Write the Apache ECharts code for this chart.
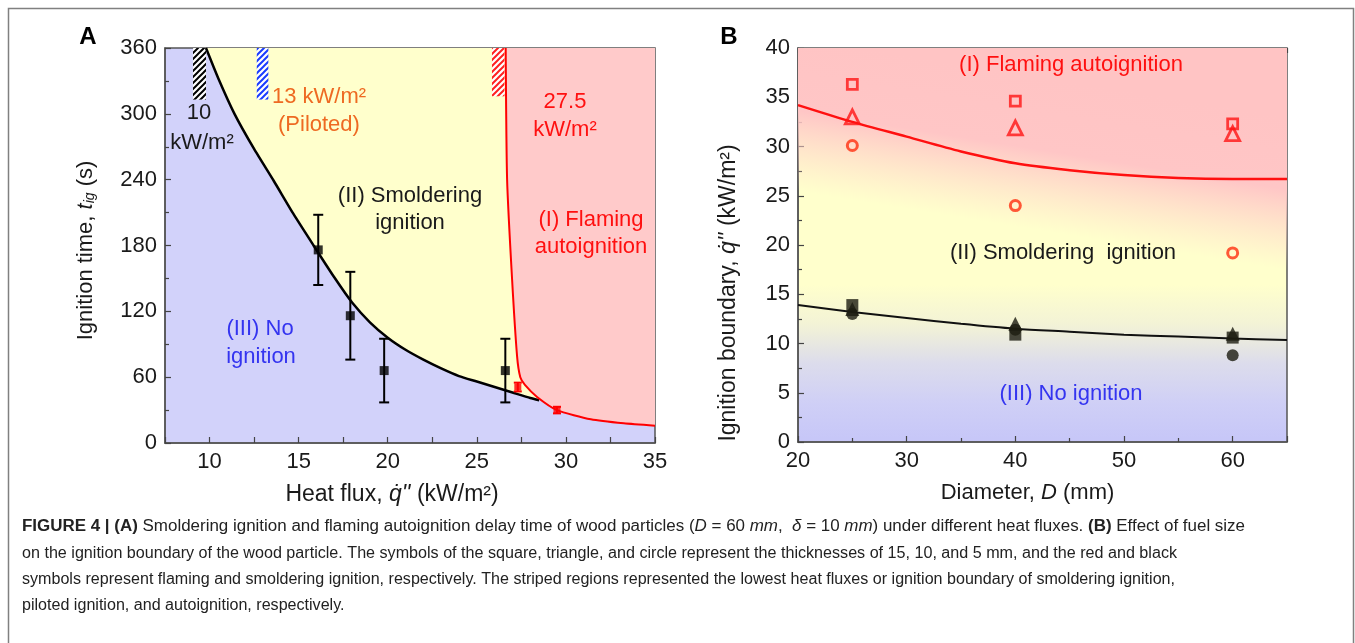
<!DOCTYPE html>
<html><head><meta charset="utf-8">
<script src="https://cdn.jsdelivr.net/npm/echarts@6/dist/echarts.min.js"></script>
<style>html,body{margin:0;padding:0;background:#fff;}#c{width:1355px;height:643px;}</style>
</head><body><div id="c"></div>
<script>
// ---------- Panel A data ----------
const aSmolderX = [16.1, 17.9, 19.8, 26.6];
const aSmolderY = [176, 116, 66, 66];
const aSmolderLow = [144, 76, 37, 37];
const aSmolderHigh = [208, 156, 95, 95];
const aFlameX = [27.3, 29.5];
const aFlameY = [51, 30];
const aFlameLow = [47, 27];
const aFlameHigh = [55, 33];
const aBlackCurveX = [9.8, 10.5, 11.4, 12.5, 13.6, 14.7, 15.8, 17, 18, 19, 20, 21, 22, 23, 24, 25, 26, 27, 28, 28.5];
const aBlackCurveY = [360, 332, 300, 268, 239, 209, 181, 151, 128, 110, 96, 85, 76, 68, 61, 56, 51, 46, 41, 39];
const aRedCurveX = [26.62, 26.7, 26.98, 27.26, 27.44, 27.7, 28.38, 29.5, 31.4, 33.25, 35];
const aRedCurveY = [360, 240, 149, 79, 60, 53, 42, 30, 21.6, 17.9, 15.8];
const hatchX0 = [9.07, 12.65, 25.85];
const hatchX1 = [9.8, 13.3, 26.55];
const hatchBottom = [313, 313, 316];
const aXTicks = [10, 15, 20, 25, 30, 35];

// ---------- Panel B data ----------
const bD = [25, 40, 60];
const bFlameSquare = [36.3, 34.6, 32.3];
const bFlameTriangle = [33.0, 31.9, 31.3];
const bFlameCircle = [30.1, 24.0, 19.2];
const bSmolderSquare = [13.9, 10.9, 10.6];
const bSmolderTriangle = [13.5, 12.0, 11.0];
const bSmolderCircle = [13.0, 11.4, 8.8];
const bCurveD = [20, 25, 30, 35, 40, 45, 50, 55, 60, 65];
const bFlameCurve = [34.2, 32.5, 31.0, 29.5, 28.3, 27.6, 27.1, 26.8, 26.7, 26.7];
const bSmolderCurve = [13.9, 13.2, 12.6, 12.0, 11.5, 11.2, 10.9, 10.7, 10.5, 10.35];
const bXTicks = [20, 30, 40, 50, 60];

// ---------- styles ----------
const FONT = '"Liberation Sans", Arial, sans-serif';
const BLUE_BG = '#d2d2fa', YELLOW_BG = '#ffffcc', PINK_BG = '#ffcaca';
const HATCH_COLORS = ['#000000', '#1a3cff', '#ff2020'];
const TXT = '#1a1a1a';

function zip(xs, ys) { return xs.map((x, i) => [x, ys[i]]); }
function hatchPattern(color) {
  const c = document.createElement('canvas'); c.width = 6; c.height = 6;
  const g = c.getContext('2d'); g.fillStyle = '#fff'; g.fillRect(0, 0, 6, 6);
  g.strokeStyle = color; g.lineWidth = 2;
  g.beginPath(); g.moveTo(-1, 7); g.lineTo(7, -1); g.moveTo(-1, 1); g.lineTo(1, -1); g.moveTo(5, 7); g.lineTo(7, 5); g.stroke();
  return c;
}
const patterns = HATCH_COLORS.map(hatchPattern);

function errorBarSeries(xs, ys, lo, hi, color, cap, z) {
  return {
    type: 'custom', xAxisIndex: 0, yAxisIndex: 0, z: z, silent: true,
    data: xs.map((x, i) => [x, ys[i], lo[i], hi[i]]),
    renderItem: function (params, api) {
      const x = api.value(0);
      const p1 = api.coord([x, api.value(2)]), p2 = api.coord([x, api.value(3)]);
      const st = { stroke: color, lineWidth: 2 };
      return { type: 'group', children: [
        { type: 'line', shape: { x1: p1[0], y1: p1[1], x2: p2[0], y2: p2[1] }, style: st },
        { type: 'line', shape: { x1: p1[0] - cap, y1: p1[1], x2: p1[0] + cap, y2: p1[1] }, style: st },
        { type: 'line', shape: { x1: p2[0] - cap, y1: p2[1], x2: p2[0] + cap, y2: p2[1] }, style: st }
      ]};
    }
  };
}

const axisCommon = {
  axisLine: { show: true, lineStyle: { color: '#555', width: 1.5 } },
  axisTick: { show: true, inside: true, length: 6, lineStyle: { color: '#444', width: 1.2 } },
  minorTick: { show: true, splitNumber: 2, length: 4, lineStyle: { color: '#444', width: 1.2 } },
  axisLabel: { color: TXT, fontSize: 22, fontFamily: FONT },
  splitLine: { show: false },
  nameTextStyle: { color: TXT, fontSize: 22, fontFamily: FONT }
};

function nameRich(size) {
  return {
    i: { fontStyle: 'italic', fontSize: size, fontFamily: FONT, color: TXT },
    sub: { fontStyle: 'italic', fontSize: 14, fontFamily: FONT, color: TXT, verticalAlign: 'bottom', lineHeight: 14 }
  };
}

const option = {
  animation: false,
  backgroundColor: '#fff',
  grid: [
    { left: 165, top: 48, width: 490, height: 395, show: true, backgroundColor: BLUE_BG, borderColor: '#555', borderWidth: 1.5 },
    { left: 798, top: 48, width: 489, height: 394, show: true, borderColor: '#555', borderWidth: 1.5,
      backgroundColor: new echarts.graphic.LinearGradient(0, 0, 0, 1, [
        { offset: 0, color: '#ffffcc' }, { offset: 0.6, color: '#ffffcc' },
        { offset: 0.7, color: '#f3f3d6' }, { offset: 0.8, color: '#dcdcec' },
        { offset: 0.9, color: '#cfcff6' }, { offset: 1, color: '#c6c6f8' }
      ]) }
  ],
  xAxis: [
    Object.assign({}, axisCommon, {
      type: 'value', gridIndex: 0, min: 7.5, max: 35, interval: 2.5,
      minorTick: { show: false },
      axisLabel: Object.assign({}, axisCommon.axisLabel, { formatter: v => (aXTicks.indexOf(v) >= 0 ? String(v) : '') }),
      name: 'Heat flux, {i|q̇\'\'} (kW/m²)', nameLocation: 'middle', nameGap: 40,
      nameTextStyle: Object.assign({}, axisCommon.nameTextStyle, { rich: nameRich(23), fontSize: 23, padding: [0, 36, 0, 0] })
    }),
    Object.assign({}, axisCommon, {
      type: 'value', gridIndex: 1, min: 20, max: 65, interval: 10,
      axisLabel: Object.assign({}, axisCommon.axisLabel, { formatter: v => (bXTicks.indexOf(v) >= 0 ? String(v) : '') }),
      name: 'Diameter, {i|D} (mm)', nameLocation: 'middle', nameGap: 40,
      nameTextStyle: Object.assign({}, axisCommon.nameTextStyle, { rich: nameRich(22), padding: [0, 30, 0, 0] })
    }),
    { type: 'value', gridIndex: 1, position: 'top', min: 20, max: 65, interval: 5,
      axisLine: { show: false }, axisLabel: { show: false }, splitLine: { show: false },
      axisTick: { show: true, inside: true, length: 5, lineStyle: { color: '#444', width: 1.2 } } }
  ],
  yAxis: [
    Object.assign({}, axisCommon, {
      type: 'value', gridIndex: 0, min: 0, max: 360, interval: 60,
      name: 'Ignition time, {i|t}{sub|ig} (s)', nameLocation: 'middle', nameGap: 68,
      nameTextStyle: Object.assign({}, axisCommon.nameTextStyle, { rich: nameRich(22), padding: [0, 10, 0, 0] })
    }),
    Object.assign({}, axisCommon, {
      type: 'value', gridIndex: 1, min: 0, max: 40, interval: 5,
      name: 'Ignition boundary, {i|q̇\'\'} (kW/m²)', nameLocation: 'middle', nameGap: 58,
      nameTextStyle: Object.assign({}, axisCommon.nameTextStyle, { rich: nameRich(23), fontSize: 23, padding: [0, 96, 0, 0] })
    })
  ],
  series: [
    // regions in A
    {
      type: 'custom', xAxisIndex: 0, yAxisIndex: 0, z: 1, silent: true, data: [[0, 0]],
      renderItem: function (params, api) {
        const yellow = aBlackCurveX.map((x, i) => api.coord([x, aBlackCurveY[i]]));
        const redPts = aRedCurveX.map((x, i) => [x, aRedCurveY[i]]);
        const redLeft = redPts.filter(p => p[0] <= 28.4).reverse().map(p => api.coord(p));
        const yellowPoly = yellow.concat(redLeft);
        const redPoly = redPts.map(p => api.coord(p)).concat([api.coord([35, 360])]);
        return { type: 'group', children: [
          { type: 'polygon', shape: { points: yellowPoly }, style: { fill: YELLOW_BG } },
          { type: 'polygon', shape: { points: redPoly }, style: { fill: PINK_BG } }
        ]};
      }
    },
    // hatched strips
    {
      type: 'custom', xAxisIndex: 0, yAxisIndex: 0, z: 2, silent: true,
      data: hatchX0.map((x, i) => [x, hatchX1[i], hatchBottom[i]]),
      renderItem: function (params, api) {
        const p0 = api.coord([api.value(0), 360]);
        const p1 = api.coord([api.value(1), api.value(2)]);
        return { type: 'rect', shape: { x: p0[0], y: p0[1], width: p1[0] - p0[0], height: p1[1] - p0[1] },
          style: { fill: { image: patterns[params.dataIndex], repeat: 'repeat' } } };
      }
    },
    { type: 'line', xAxisIndex: 0, yAxisIndex: 0, z: 3, data: zip(aBlackCurveX, aBlackCurveY), showSymbol: false, symbol: 'none', smooth: 0.2,
      lineStyle: { color: '#000', width: 2.5 }, silent: true },
    { type: 'line', xAxisIndex: 0, yAxisIndex: 0, z: 3, data: zip(aRedCurveX, aRedCurveY), showSymbol: false, symbol: 'none', smooth: 0.2,
      lineStyle: { color: '#ff0000', width: 2 }, silent: true },
    errorBarSeries(aSmolderX, aSmolderY, aSmolderLow, aSmolderHigh, '#000', 5, 4),
    { type: 'scatter', xAxisIndex: 0, yAxisIndex: 0, z: 5, data: zip(aSmolderX, aSmolderY), symbol: 'rect', symbolSize: 9,
      itemStyle: { color: '#000' }, silent: true },
    errorBarSeries(aFlameX, aFlameY, aFlameLow, aFlameHigh, '#ff0000', 4, 4),
    { type: 'scatter', xAxisIndex: 0, yAxisIndex: 0, z: 5, data: zip(aFlameX, aFlameY), symbol: 'rect', symbolSize: 7,
      itemStyle: { color: '#ff0000' }, silent: true },

    // Panel B: pink tilted overlay
    {
      type: 'custom', xAxisIndex: 1, yAxisIndex: 1, z: 1, silent: true, data: [[0, 0]],
      renderItem: function (params, api) {
        const p0 = api.coord([20, 40]), p1 = api.coord([65, 0]);
        return { type: 'rect', shape: { x: p0[0], y: p0[1], width: p1[0] - p0[0], height: p1[1] - p0[1] },
          style: { fill: new echarts.graphic.LinearGradient(0.13, 0, 0, 1, [
            { offset: 0, color: 'rgba(255,196,196,1)' }, { offset: 0.18, color: 'rgba(255,198,198,1)' },
            { offset: 0.38, color: 'rgba(255,215,205,0)' }, { offset: 1, color: 'rgba(255,215,205,0)' }
          ]) } };
      }
    },
    { type: 'line', xAxisIndex: 1, yAxisIndex: 1, z: 3, data: zip(bCurveD, bFlameCurve), showSymbol: false, symbol: 'none', smooth: 0.3,
      lineStyle: { color: '#ff1010', width: 2.5 }, silent: true },
    { type: 'line', xAxisIndex: 1, yAxisIndex: 1, z: 3, data: zip(bCurveD, bSmolderCurve), showSymbol: false, symbol: 'none', smooth: 0.3,
      lineStyle: { color: '#111', width: 2 }, silent: true },
    { type: 'scatter', xAxisIndex: 1, yAxisIndex: 1, z: 5, data: zip(bD, bFlameSquare), symbol: 'rect', symbolSize: 10,
      itemStyle: { color: 'rgba(0,0,0,0)', borderColor: '#ff1414', borderWidth: 2.8 }, silent: true },
    { type: 'scatter', xAxisIndex: 1, yAxisIndex: 1, z: 5, data: zip(bD, bFlameTriangle), symbol: 'triangle', symbolSize: 14,
      itemStyle: { color: 'rgba(0,0,0,0)', borderColor: '#ff1414', borderWidth: 2.8 }, silent: true },
    { type: 'scatter', xAxisIndex: 1, yAxisIndex: 1, z: 5, data: zip(bD, bFlameCircle), symbol: 'circle', symbolSize: 10,
      itemStyle: { color: 'rgba(0,0,0,0)', borderColor: '#ff3010', borderWidth: 3 }, silent: true },
    { type: 'scatter', xAxisIndex: 1, yAxisIndex: 1, z: 5, data: zip(bD, bSmolderCircle), symbol: 'circle', symbolSize: 12,
      itemStyle: { color: '#1c1c10' }, silent: true },
    { type: 'scatter', xAxisIndex: 1, yAxisIndex: 1, z: 5, data: zip(bD, bSmolderTriangle), symbol: 'triangle', symbolSize: 14,
      itemStyle: { color: '#1c1c10' }, silent: true },
    { type: 'scatter', xAxisIndex: 1, yAxisIndex: 1, z: 5, data: zip(bD, bSmolderSquare), symbol: 'rect', symbolSize: 12,
      itemStyle: { color: '#1c1c10' }, silent: true }
  ],
  graphic: []
};

function txt(text, x, y, color, size, align, weight) {
  return { type: 'text', z: 100, silent: true, style: { text: text, x: x, y: y, fill: color, fontSize: size, fontFamily: FONT,
    fontWeight: weight || 'normal', align: align || 'center', verticalAlign: 'middle' } };
}
const ORANGE = '#ee6a22', RED = '#ff1010', BLUE = '#3434f0';
option.graphic = [
  { type: 'rect', silent: true, shape: { x: 8.5, y: 8.5, width: 1345, height: 700 }, style: { fill: 'none', stroke: '#808080', lineWidth: 1.5 } },
  txt('A', 88, 37, '#000', 24, 'center', 'bold'),
  txt('B', 729, 37, '#000', 24, 'center', 'bold'),
  txt('10', 199, 113, TXT, 22),
  txt('kW/m²', 202, 143, TXT, 22),
  txt('13 kW/m²', 272, 97, ORANGE, 22, 'left'),
  txt('(Piloted)', 278, 125, ORANGE, 22, 'left'),
  txt('27.5', 565, 102, RED, 22),
  txt('kW/m²', 565, 130, RED, 22),
  txt('(II) Smoldering', 410, 196, TXT, 22),
  txt('ignition', 410, 223, TXT, 22),
  txt('(I) Flaming', 591, 220, RED, 22),
  txt('autoignition', 591, 247, RED, 22),
  txt('(III) No', 260, 329, BLUE, 22),
  txt('ignition', 261, 357, BLUE, 22),
  txt('(I) Flaming autoignition', 1071, 65, RED, 22),
  txt('(II) Smoldering  ignition', 1063, 253, TXT, 22),
  txt('(III) No ignition', 1071, 394, BLUE, 22)
];

// ---------- caption ----------
const CAP = 16;
const capRich = {
  b: { fontWeight: 'bold', fontSize: CAP, fontFamily: FONT, fill: '#222' },
  i: { fontStyle: 'italic', fontSize: CAP, fontFamily: FONT, fill: '#222' }
};
const captionLines = [
  '{b|FIGURE 4 | (A)} Smoldering ignition and flaming autoignition delay time of wood particles ({i|D} = 60 {i|mm},  {i|δ} = 10 {i|mm}) under different heat fluxes. {b|(B)} Effect of fuel size',
  'on the ignition boundary of the wood particle. The symbols of the square, triangle, and circle represent the thicknesses of 15, 10, and 5 mm, and the red and black',
  'symbols represent flaming and smoldering ignition, respectively. The striped regions represented the lowest heat fluxes or ignition boundary of smoldering ignition,',
  'piloted ignition, and autoignition, respectively.'
];
const capY = [527, 554, 580, 606];
const capTargetWidth = [1223, 1155, 1153, null];
const mctx = document.createElement('canvas').getContext('2d');
function measureRich(str, size) {
  let w = 0; const re = /\{(\w+)\|([^}]*)\}|([^{]+)/g; let m;
  while ((m = re.exec(str))) {
    const st = m[1] || ''; const t = m[1] ? m[2] : m[3];
    mctx.font = (st === 'i' ? 'italic ' : '') + (st === 'b' ? 'bold ' : '') + size + 'px ' + FONT;
    w += mctx.measureText(t).width;
  }
  return w;
}
let lastScale = 1;
captionLines.forEach((t, k) => {
  let s = lastScale;
  if (capTargetWidth[k]) { s = capTargetWidth[k] / measureRich(t, CAP); if (!isFinite(s) || s <= 0) s = 1; lastScale = s; }
  option.graphic.push({ type: 'text', silent: true, z: 100, x: 22, y: capY[k], scaleX: s,
    style: { text: t, x: 0, y: 0, fill: '#222', fontSize: CAP, fontFamily: FONT, align: 'left', verticalAlign: 'middle', rich: capRich } });
});

const chart = echarts.init(document.getElementById('c'));
chart.setOption(option);
</script></body></html>
